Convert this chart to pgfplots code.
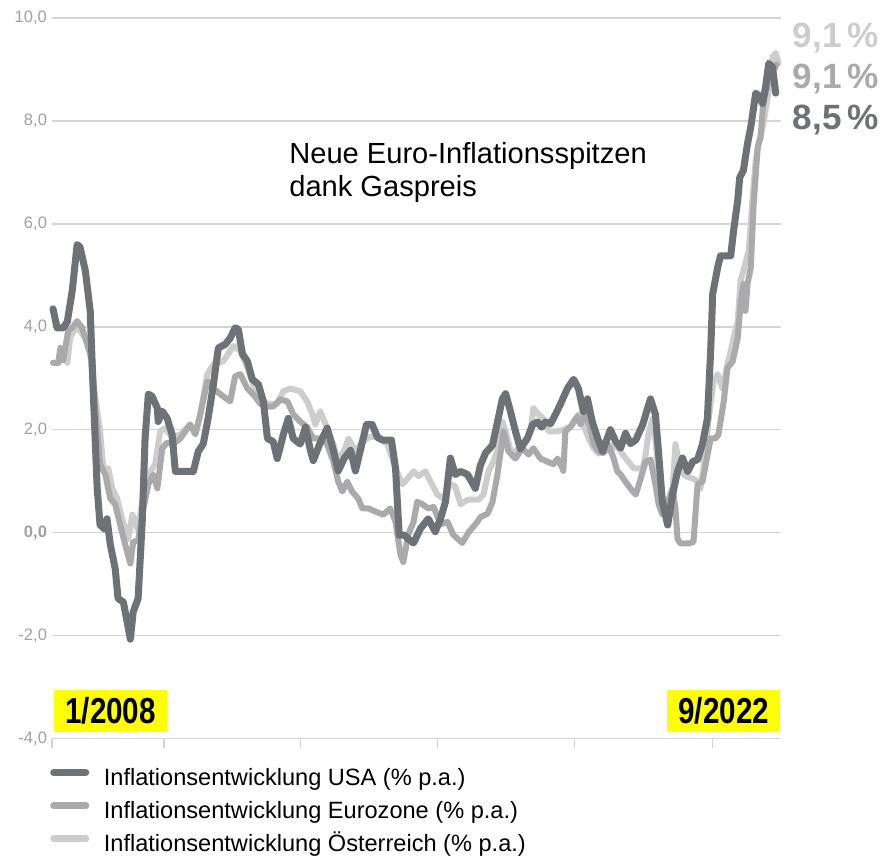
\documentclass[border=0pt]{standalone}
\usepackage{fontspec}
\setmainfont{Liberation Sans}
\usepackage{pgfplots}
\usepackage{pgfplotstable}
\pgfplotsset{compat=1.18}
\usetikzlibrary{calc}

\definecolor{usa}{HTML}{6E7176}
\definecolor{euro}{HTML}{AAAAAC}
\definecolor{aut}{HTML}{CDCDCD}
\definecolor{ticklab}{HTML}{A0A0A0}
\definecolor{gridc}{HTML}{D4D4D4}
\definecolor{hl}{HTML}{FFFF00}

% x = months since 1/2008, y = inflation in % p.a.
\pgfplotstableread{
m v
0.2 4.35
1.2 3.98
2.7 3.98
3.7 4.10
4.9 4.70
6.1 5.60
6.8 5.55
8.1 5.09
9.3 4.30
10.0 2.80
11.0 0.86
11.7 0.15
13.0 0.06
13.4 0.27
14.2 -0.23
15.4 -0.70
16.1 -1.28
17.4 -1.35
18.3 -1.73
19.1 -2.07
19.8 -1.54
21.0 -1.28
22.0 0.21
22.7 1.83
23.5 2.69
24.4 2.65
25.7 2.42
25.9 2.16
26.9 2.36
28.1 2.22
29.3 1.91
30.1 1.19
34.5 1.19
35.7 1.58
36.9 1.72
38.1 2.22
39.4 2.88
40.6 3.59
42.3 3.66
43.5 3.78
44.7 3.98
45.5 3.95
46.5 3.47
47.7 3.33
48.9 2.98
50.4 2.88
51.6 2.55
52.6 1.83
54.0 1.77
55.0 1.44
56.5 1.91
57.7 2.22
58.9 1.83
60.6 1.72
61.9 2.05
63.1 1.60
63.8 1.40
65.5 1.75
67.2 2.03
68.7 1.60
69.9 1.20
71.4 1.45
72.9 1.60
74.1 1.20
75.3 1.60
76.8 2.10
78.2 2.10
79.5 1.85
80.7 1.80
82.9 1.80
83.9 1.25
84.8 -0.05
86.1 -0.05
87.0 -0.12
88.3 -0.20
90.0 0.08
91.9 0.27
93.6 0.02
94.9 0.27
96.1 0.60
97.3 1.45
98.5 1.13
99.8 1.19
101.5 1.13
103.4 0.86
104.6 1.30
105.9 1.55
107.6 1.70
108.8 2.15
110.0 2.60
110.8 2.70
112.0 2.35
113.2 1.97
114.4 1.63
116.1 1.83
117.4 2.10
118.6 2.15
119.6 2.05
120.5 2.15
121.8 2.12
123.0 2.30
124.2 2.50
125.9 2.80
127.4 2.98
128.6 2.80
129.8 2.35
130.8 2.60
132.0 2.15
133.3 1.83
134.5 1.58
135.7 1.85
136.4 2.00
137.7 1.77
138.9 1.64
140.1 1.93
141.3 1.73
142.6 1.80
144.3 2.10
145.5 2.42
146.2 2.60
147.4 2.30
148.2 1.52
149.1 0.60
150.4 0.15
151.6 0.74
152.8 1.19
154.0 1.45
155.3 1.19
156.5 1.38
157.7 1.42
158.9 1.72
160.1 2.22
160.9 3.53
161.4 4.64
162.6 5.15
163.3 5.38
165.8 5.38
166.5 5.87
167.5 6.45
168.0 6.90
168.9 7.04
169.9 7.56
170.7 7.88
171.9 8.54
172.6 8.50
173.6 8.34
174.3 8.65
175.1 9.12
176.0 9.05
176.8 8.54
}\usadata

\pgfplotstableread{
m v
0.2 3.30
1.5 3.30
2.0 3.59
2.7 3.35
3.9 3.92
5.1 4.00
6.1 4.11
7.3 3.98
8.6 3.66
9.8 3.33
10.5 2.42
11.7 1.33
13.0 1.13
14.2 0.66
15.4 0.55
17.1 0.00
18.3 -0.37
19.1 -0.60
19.8 -0.18
21.0 -0.15
22.0 0.35
23.5 0.94
24.7 1.13
25.7 0.86
26.9 1.64
28.1 1.75
29.6 1.72
31.3 1.83
33.7 2.10
35.0 1.91
36.2 2.30
37.9 2.94
39.4 2.80
41.1 2.69
43.5 2.55
44.7 3.04
46.0 3.08
47.7 2.80
49.1 2.69
50.9 2.50
52.6 2.45
54.0 2.45
55.7 2.59
57.5 2.55
58.9 2.30
60.6 2.16
62.3 2.05
63.8 1.83
65.5 1.83
67.2 1.72
68.7 1.38
69.9 0.99
70.9 0.80
72.1 0.99
73.3 0.80
74.8 0.66
75.8 0.47
77.3 0.47
79.0 0.41
80.9 0.35
82.6 0.47
83.9 0.21
85.1 -0.43
85.8 -0.57
87.0 -0.04
88.3 0.21
89.2 0.60
90.5 0.55
91.9 0.47
93.2 0.50
94.9 0.16
96.6 0.21
98.0 -0.04
100.2 -0.20
101.7 0.00
103.9 0.21
104.6 0.30
106.4 0.37
107.6 0.60
108.8 1.13
109.5 1.52
110.3 1.97
111.5 1.58
113.2 1.44
114.9 1.64
116.4 1.52
117.6 1.64
119.3 1.44
121.0 1.38
122.5 1.33
123.5 1.44
124.7 1.25
124.9 1.20
125.4 1.97
126.7 2.06
128.4 2.26
129.1 2.10
130.3 2.30
131.5 2.03
132.3 1.72
133.5 1.58
134.7 1.55
135.9 1.72
137.2 1.44
138.1 1.19
138.9 1.13
140.1 0.99
141.3 0.86
142.6 0.74
143.8 1.05
145.0 1.38
146.2 1.42
147.4 0.94
148.2 0.55
149.1 0.35
150.4 0.60
151.6 0.86
152.3 0.47
152.8 -0.12
153.5 -0.21
155.5 -0.21
156.7 -0.18
157.7 0.94
158.9 0.99
159.7 1.33
160.9 1.83
162.1 1.83
162.8 1.91
164.1 2.55
165.0 3.20
166.3 3.33
167.5 3.78
168.2 4.44
168.9 4.83
169.4 4.31
169.9 4.83
170.7 5.15
171.4 6.39
172.4 7.49
173.1 7.68
173.8 8.40
175.1 8.79
176.3 8.99
177.0 9.10
}\eurodata

\pgfplotstableread{
m v
0.2 3.30
1.5 3.30
2.7 3.55
3.7 3.30
4.4 3.78
5.6 3.98
6.8 3.92
8.1 3.78
9.3 3.47
10.0 2.94
11.7 1.97
12.5 1.25
13.7 1.25
14.7 0.86
15.9 0.66
17.1 0.27
18.6 -0.12
19.6 0.35
20.8 0.08
21.5 0.35
22.7 0.94
24.0 1.19
25.2 1.33
26.4 1.97
27.6 2.03
29.3 1.85
31.3 1.91
33.7 2.10
35.0 1.95
36.2 2.30
37.9 3.08
39.4 3.27
41.8 3.33
43.5 3.53
44.3 3.63
46.0 3.53
47.7 3.20
49.1 2.88
50.9 2.61
52.6 2.50
54.0 2.50
55.0 2.50
56.5 2.75
58.2 2.80
60.6 2.75
62.3 2.55
63.6 2.30
64.3 2.10
65.5 2.36
67.2 2.03
68.7 1.72
69.9 1.38
71.6 1.64
72.4 1.83
74.1 1.58
75.8 1.77
77.8 1.87
79.7 1.85
81.9 1.72
83.9 1.25
85.6 0.94
86.8 1.05
88.3 1.19
89.5 1.10
91.2 1.19
92.4 1.00
94.1 0.74
95.6 0.66
97.3 0.94
98.5 0.90
99.8 0.55
101.5 0.64
104.2 0.64
105.4 0.74
106.6 1.19
107.8 1.38
109.0 1.64
110.0 2.16
110.8 1.97
112.0 1.60
113.2 1.55
114.4 1.72
115.6 1.77
116.9 1.97
117.6 2.42
118.8 2.30
120.0 2.22
121.3 1.97
123.5 1.97
124.9 2.00
126.7 2.06
127.4 2.16
128.6 2.30
129.8 2.10
131.1 1.83
132.3 1.64
133.5 1.54
134.7 1.60
136.4 1.58
137.7 1.72
139.4 1.52
140.8 1.38
142.1 1.25
144.3 1.25
145.0 1.52
145.7 1.91
146.7 2.22
147.4 1.80
148.2 1.13
149.4 0.47
150.4 0.30
151.6 0.86
152.3 1.72
153.5 1.19
154.8 1.10
156.5 1.05
157.7 1.00
158.4 0.86
159.2 1.30
160.4 2.20
161.6 2.94
162.6 3.08
163.8 2.80
165.0 3.27
165.8 3.53
166.5 3.78
167.5 4.11
168.2 4.89
168.9 5.09
170.2 5.48
171.1 6.45
171.9 7.23
172.6 7.56
173.8 7.95
175.1 8.60
176.0 9.24
176.8 9.32
177.5 9.12
}\autdata

\begin{document}
\begin{tikzpicture}
\begin{axis}[
  name=ax,
  scale only axis,
  width=726pt, height=718pt,
  xmin=0, xmax=178, ymin=-4, ymax=10,
  axis x line=bottom, axis y line=left,
  x axis line style={-, draw=gridc, line width=1.5pt},
  y axis line style={draw=none},
  xtick={0,27.38,60.64,94.13,127.63,161.37},
  xticklabels={},
  tick align=outside,
  major tick length=9pt,
  xtick style={draw=gridc, line width=1.5pt},
  ytick={-4,-2,0,2,4,6,8,10},
  yticklabels={{-4,0},{-2,0},{\textbf{0,0}},{2,0},{4,0},{6,0},{8,0},{10,0}},
  ytick style={draw=none},
  yticklabel style={font=\fontsize{16.5}{18}\selectfont, text=ticklab, inner sep=0pt, xshift=4pt},
  ymajorgrids=true,
  grid style={draw=gridc, line width=1.4pt},
  clip=false,
  reverse legend,
  legend cell align=left,
  legend style={draw=none, fill=none, inner sep=0pt, outer sep=0pt,
    at={(0,0)}, anchor=north west, xshift=-2pt, yshift=-29pt,
    font=\fontsize{23.5}{26}\selectfont, row sep=9pt,
    nodes={inner sep=0pt, text depth=6pt, text height=18pt}},
  legend image code/.code={\draw[#1, line width=7pt, line cap=round] (3.5pt,7pt) -- (35.5pt,7pt); \path (50pt,7pt);},
  every axis plot/.append style={line join=round, line cap=round},
]
\addplot[aut, line width=6pt] table[x=m, y=v] {\autdata};
\addlegendentry{Inflationsentwicklung Österreich (\% p.a.)}
\addplot[euro, line width=6pt] table[x=m, y=v] {\eurodata};
\addlegendentry{Inflationsentwicklung Eurozone (\% p.a.)}
\addplot[usa, line width=7pt] table[x=m, y=v] {\usadata};
\addlegendentry{Inflationsentwicklung USA (\% p.a.)}

\node[anchor=base west, inner sep=0pt, font=\fontsize{29}{34}\selectfont] at (axis cs:57.9,7.17) {Neue Euro-Inflationsspitzen};
\node[anchor=base west, inner sep=0pt, font=\fontsize{29}{34}\selectfont] at (axis cs:57.9,6.53) {dank Gaspreis};

\node[anchor=base west, inner sep=0pt, font=\bfseries\fontsize{35}{38}\selectfont, text=aut] at (axis cs:180.9,9.43) {9,1\,\%};
\node[anchor=base west, inner sep=0pt, font=\bfseries\fontsize{35}{38}\selectfont, text=euro] at (axis cs:180.9,8.63) {9,1\,\%};
\node[anchor=base west, inner sep=0pt, font=\bfseries\fontsize{35}{38}\selectfont, text=usa] at (axis cs:180.9,7.84) {8,5\,\%};

\node[anchor=south west, fill=hl, inner sep=0pt, minimum width=112pt, minimum height=42pt,
  font=\bfseries\fontsize{36}{38}\selectfont] at (axis cs:0.5,-3.88) {\scalebox{0.82}[1]{1/2008}};
\node[anchor=south east, fill=hl, inner sep=0pt, minimum width=113pt, minimum height=42pt,
  font=\bfseries\fontsize{36}{38}\selectfont] at (axis cs:178,-3.88) {\scalebox{0.82}[1]{9/2022}};
\end{axis}
\path ([xshift=-52pt,yshift=-121pt]ax.south west) rectangle ([xshift=107pt,yshift=18pt]ax.north east);
\end{tikzpicture}
\end{document}
